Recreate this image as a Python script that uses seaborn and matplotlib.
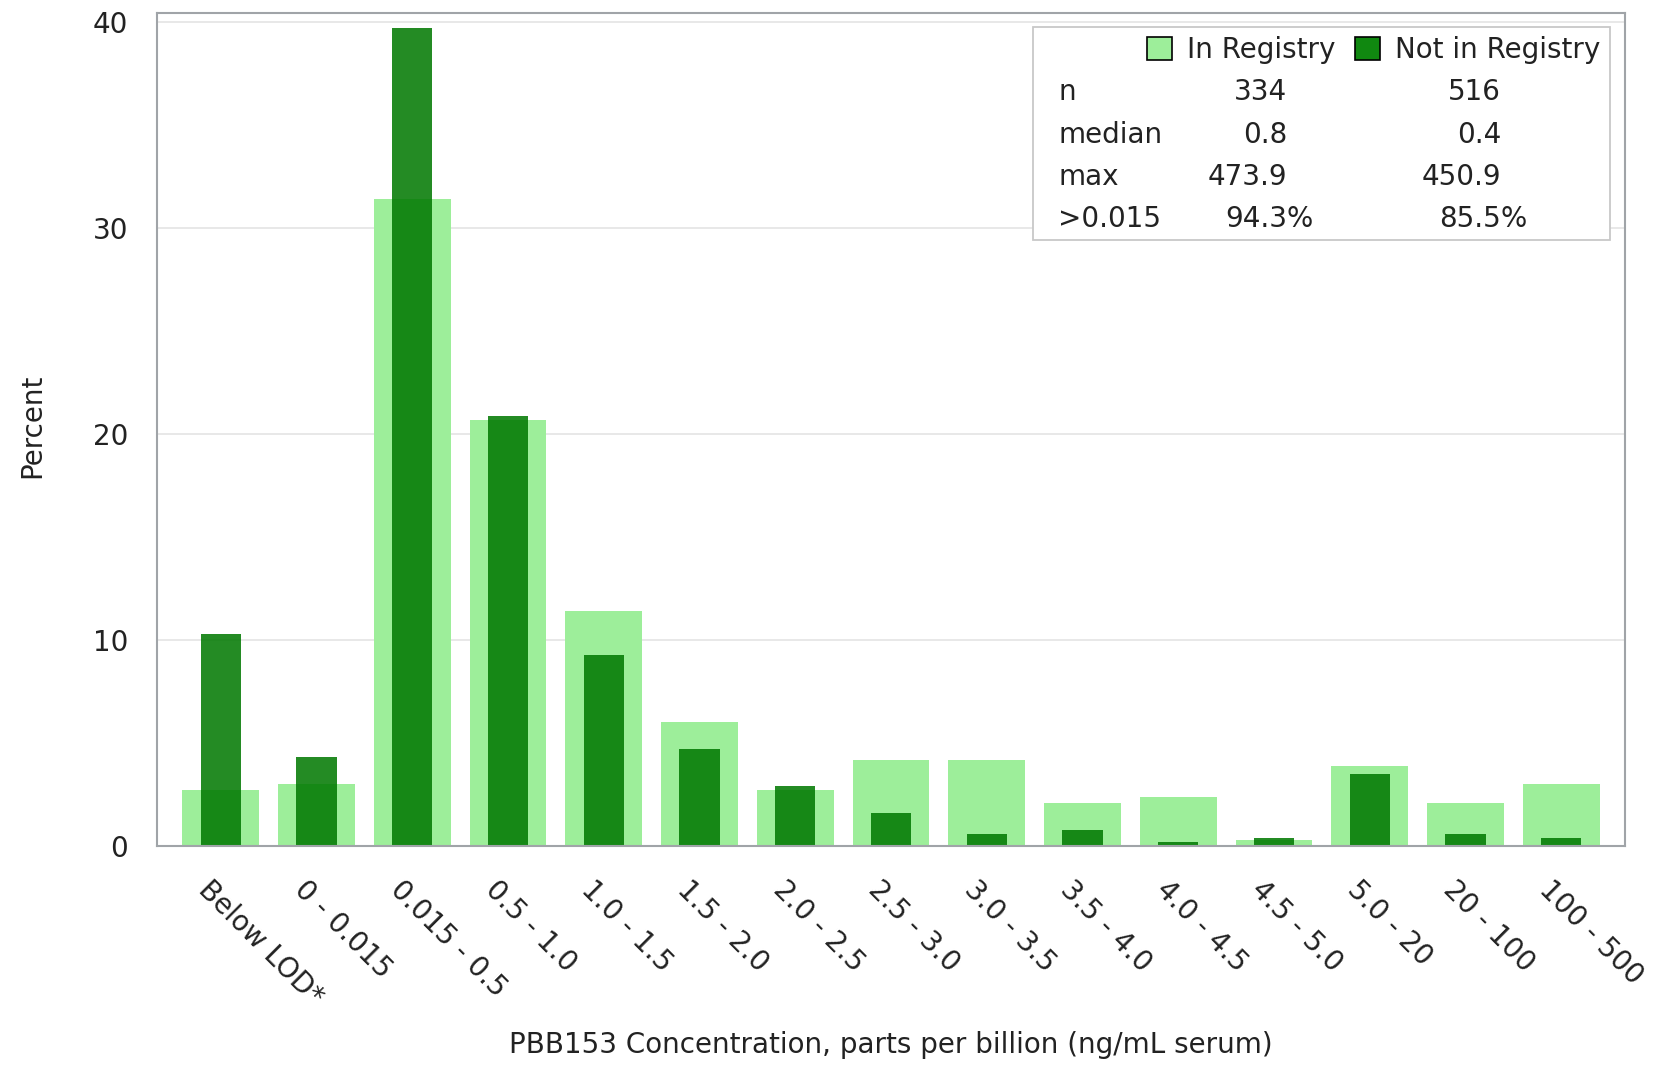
import matplotlib
matplotlib.use("Agg")
import matplotlib.pyplot as plt
import matplotlib.transforms as mtrans
from matplotlib.patches import Patch, Rectangle
import seaborn as sns
import pandas as pd

# concentration bins (percent of people in each bin)
categories = ['Below LOD*', '0 - 0.015', '0.015 - 0.5', '0.5 - 1.0', '1.0 - 1.5',
              '1.5 - 2.0', '2.0 - 2.5', '2.5 - 3.0', '3.0 - 3.5', '3.5 - 4.0',
              '4.0 - 4.5', '4.5 - 5.0', '5.0 - 20', '20 - 100', '100 - 500']
in_registry = [2.7, 3.0, 31.4, 20.7, 11.4, 6.0, 2.7, 4.2, 4.2, 2.1, 2.4, 0.3, 3.9, 2.1, 3.0]
not_in_registry = [10.3, 4.3, 39.7, 20.9, 9.3, 4.7, 2.9, 1.6, 0.6, 0.8, 0.2, 0.4, 3.5, 0.6, 0.4]

# summary table in the inset
stat_names = ['n', 'median', 'max', '>0.015']
in_stats = ['334', '0.8', '473.9', '94.3']
not_stats = ['516', '0.4', '450.9', '85.5']

LIGHT = '#9DEE9A'
DARK = '#007800'
TXT = '#222222'
GRAY = '#a0a4a8'


def main():
    sns.set_style('white')
    plt.rcParams['font.family'] = ['DejaVu Sans']
    plt.rcParams['font.size'] = 20

    df = pd.DataFrame({'range': categories, 'in_reg': in_registry, 'not_reg': not_in_registry})

    fig = plt.figure(figsize=(16.62, 10.65), dpi=100)
    ax = fig.add_axes([0.0945, 0.2056, 0.8832, 0.7824])

    sns.barplot(data=df, x='range', y='in_reg', color=LIGHT, saturation=1,
                width=0.8, errorbar=None, ax=ax, zorder=2, edgecolor='none', linewidth=0)
    sns.barplot(data=df, x='range', y='not_reg', color=DARK, saturation=1,
                width=0.42, errorbar=None, ax=ax, alpha=0.86, zorder=2,
                edgecolor='none', linewidth=0)

    ax.set_xlim(-0.665, 14.665)
    ax.set_ylim(0, 40.46)
    ax.set_yticks([0, 10, 20, 30, 40])
    ax.yaxis.grid(True, color='#e4e4e4', lw=1.2)
    ax.set_axisbelow(True)

    for s in ax.spines.values():
        s.set_visible(True)
        s.set_color(GRAY)
        s.set_linewidth(1.5)

    ax.tick_params(axis='both', colors=GRAY, labelcolor=TXT, labelsize=20,
                   length=11, width=1.5, direction='out')
    ax.tick_params(axis='y', pad=10)
    ax.tick_params(axis='x', pad=10, labelrotation=-45)
    shift = mtrans.ScaledTranslation(-8 / 100, 0, fig.dpi_scale_trans)
    for lbl in ax.get_xticklabels():
        lbl.set_ha('left')
        lbl.set_va('top')
        lbl.set_rotation_mode('anchor')
        lbl.set_transform(lbl.get_transform() + shift)

    ax.set_ylabel('Percent', color=TXT, fontsize=20)
    ax.yaxis.set_label_coords(-0.0755, 0.504)
    ax.set_xlabel('PBB153 Concentration, parts per billion (ng/mL serum)', color=TXT, fontsize=20)
    ax.xaxis.set_label_coords(0.5, -0.222)

    # inset box with legend and stats
    ax.add_patch(Rectangle((0.597, 0.727), 0.3928, 0.256, transform=ax.transAxes,
                           facecolor='white', edgecolor='#c8c8c8', lw=1.3, zorder=4))
    handles = [Patch(facecolor=LIGHT, edgecolor='black', lw=1.2),
               Patch(facecolor='#108810', edgecolor='black', lw=1.2)]
    leg = ax.legend(handles, ['In Registry', 'Not in Registry'], ncol=2, loc='upper right',
                    bbox_to_anchor=(0.985, 0.975), frameon=False, fontsize=20,
                    handlelength=0.9, handleheight=0.9, handletextpad=0.55,
                    columnspacing=0.7, borderaxespad=0, borderpad=0.1)
    leg.set_zorder(5)
    for t in leg.get_texts():
        t.set_color(TXT)

    row_y = [0.9046, 0.8537, 0.8028, 0.752]
    for i, name in enumerate(stat_names):
        y = row_y[i]
        ax.text(0.6138, y, name, transform=ax.transAxes, ha='left', va='center',
                color=TXT, fontsize=20, zorder=5)
        ax.text(0.7697, y, in_stats[i], transform=ax.transAxes, ha='right', va='center',
                color=TXT, fontsize=20, zorder=5)
        ax.text(0.9155, y, not_stats[i], transform=ax.transAxes, ha='right', va='center',
                color=TXT, fontsize=20, zorder=5)
        if name == '>0.015':
            ax.text(0.7697, y, '%', transform=ax.transAxes, ha='left', va='center',
                    color=TXT, fontsize=20, zorder=5)
            ax.text(0.9155, y, '%', transform=ax.transAxes, ha='left', va='center',
                    color=TXT, fontsize=20, zorder=5)

    fig.savefig('out.png', dpi=100)


if __name__ == '__main__':
    main()
